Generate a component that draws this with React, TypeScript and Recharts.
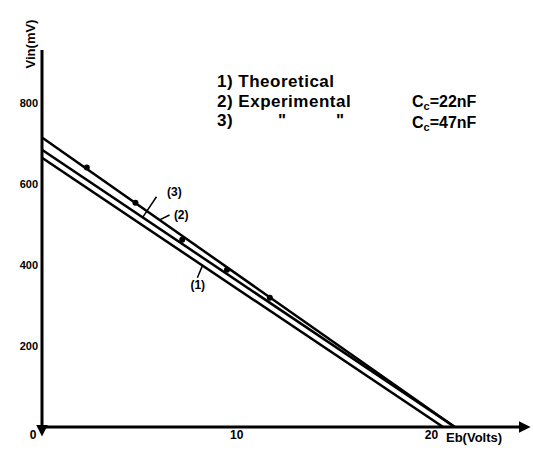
import React from "react";
import {
  ComposedChart,
  Line,
  Scatter,
  XAxis,
  YAxis,
  ReferenceLine,
  ReferenceDot,
} from "recharts";

// Vin (mV) against Eb (V): theoretical line and the two measured fits
const theoryEb = [0, 20.6];
const theoryVin = [664, 0];
const cc22Eb = [0, 21.2];
const cc22Vin = [714, 0];
const cc47Eb = [0, 21.2];
const cc47Vin = [684, 0];

// measured points along the 22nF run
const measuredEb = [2.3, 4.8, 7.2, 9.5, 11.7];
const measuredVin = [640, 553, 462, 388, 319];

const xTicks = [0, 10, 20];
const yTicks = [200, 400, 600, 800];

const toPoints = (eb: number[], vin: number[]) =>
  eb.map((x, i) => ({ eb: x, vin: vin[i] }));

const theory = toPoints(theoryEb, theoryVin);
const cc22 = toPoints(cc22Eb, cc22Vin);
const cc47 = toPoints(cc47Eb, cc47Vin);
const measured = toPoints(measuredEb, measuredVin);

const FONT = "'Liberation Sans', 'DejaVu Sans', sans-serif";
const INK = "#000";

const XTick = (props: any) => {
  const { x, y, payload } = props;
  // the origin label sits a little left of the corner
  const dx = payload.value === 0 ? -9 : 0;
  return (
    <text
      x={x + dx}
      y={y}
      dy={10}
      textAnchor="middle"
      fontFamily={FONT}
      fontWeight={700}
      fontSize={12}
      fill={INK}
    >
      {payload.value}
    </text>
  );
};

const Dot = (props: any) => <circle cx={props.cx} cy={props.cy} r={3} fill={INK} />;

const curveLabel = (value: string) => ({
  value,
  position: "center" as const,
  offset: 0,
  fontFamily: FONT,
  fontSize: 12,
  fontWeight: 700,
  fill: INK,
});

const keyStyle = {
  fontFamily: FONT,
  fontSize: 17,
  fontWeight: 700,
  letterSpacing: 0.5,
  fill: INK,
};

const capStyle = {
  fontFamily: FONT,
  fontSize: 16,
  fontWeight: 700,
  fill: INK,
};

export default function App() {
  return (
    <div style={{ position: "absolute", left: 0, top: 0, background: "#fff" }}>
      <ComposedChart
        width={533}
        height={456}
        margin={{ top: 50, right: 12, bottom: 9, left: 0 }}
      >
        <defs>
          <marker
            id="arrow"
            viewBox="0 0 10 10"
            refX="2"
            refY="5"
            markerWidth="4"
            markerHeight="4"
            orient="auto"
          >
            <path d="M0,0 L10,5 L0,10 z" fill={INK} />
          </marker>
        </defs>
        <XAxis
          dataKey="eb"
          type="number"
          domain={[0, 24.6]}
          ticks={xTicks}
          height={20}
          tickLine={false}
          tickSize={0}
          tick={<XTick />}
          axisLine={{ stroke: INK, strokeWidth: 3, markerEnd: "url(#arrow)" }}
          allowDataOverflow
        />
        <YAxis
          dataKey="vin"
          type="number"
          domain={[0, 930]}
          ticks={yTicks}
          width={42}
          tickLine={false}
          tickSize={0}
          tickMargin={4}
          tick={{ fill: INK, fontFamily: FONT, fontWeight: 700, fontSize: 11 }}
          axisLine={{ stroke: INK, strokeWidth: 3, markerEnd: "url(#arrow)" }}
          allowDataOverflow
        />
        <Line
          data={theory}
          dataKey="vin"
          stroke={INK}
          strokeWidth={2.5}
          dot={false}
          isAnimationActive={false}
        />
        <Line
          data={cc47}
          dataKey="vin"
          stroke={INK}
          strokeWidth={2.5}
          dot={false}
          isAnimationActive={false}
        />
        <Line
          data={cc22}
          dataKey="vin"
          stroke={INK}
          strokeWidth={2.5}
          dot={false}
          isAnimationActive={false}
        />
        <Scatter
          data={measured}
          dataKey="vin"
          shape={<Dot />}
          isAnimationActive={false}
        />

        {/* leaders from the curve numbers to their lines */}
        <ReferenceLine
          segment={[{ x: 5.88, y: 568 }, { x: 5.17, y: 517 }]}
          stroke={INK}
          strokeWidth={1.5}
        />
        <ReferenceLine
          segment={[{ x: 6.55, y: 523 }, { x: 6.04, y: 511 }]}
          stroke={INK}
          strokeWidth={1.5}
        />
        <ReferenceLine
          segment={[{ x: 7.98, y: 368 }, { x: 8.24, y: 398 }]}
          stroke={INK}
          strokeWidth={1.5}
        />
        <ReferenceDot x={6.8} y={580} r={0} stroke="none" label={curveLabel("(3)")} />
        <ReferenceDot x={7.15} y={523} r={0} stroke="none" label={curveLabel("(2)")} />
        <ReferenceDot x={8.0} y={351} r={0} stroke="none" label={curveLabel("(1)")} />

        {/* axis titles */}
        <text
          transform="translate(30,44) rotate(-90)"
          textAnchor="middle"
          dominantBaseline="central"
          fontFamily={FONT}
          fontWeight={700}
          fontSize={13}
          fill={INK}
        >
          Vin(mV)
        </text>
        <text
          x={446}
          y={442}
          fontFamily={FONT}
          fontWeight={700}
          fontSize={13}
          fill={INK}
        >
          Eb(Volts)
        </text>

        {/* key */}
        <text x={217} y={87} {...keyStyle}>
          1) Theoretical
        </text>
        <text x={217} y={107} {...keyStyle}>
          2) Experimental
        </text>
        <text x={217} y={126} {...keyStyle}>
          3)
        </text>
        <text x={278} y={126} {...keyStyle}>
          "
        </text>
        <text x={336} y={126} {...keyStyle}>
          "
        </text>
        <text x={412} y={107} {...capStyle}>
          C<tspan fontSize={11} dy={3}>c</tspan>
          <tspan dy={-3}>=22nF</tspan>
        </text>
        <text x={412} y={128} {...capStyle}>
          C<tspan fontSize={11} dy={3}>c</tspan>
          <tspan dy={-3}>=47nF</tspan>
        </text>
      </ComposedChart>
    </div>
  );
}
